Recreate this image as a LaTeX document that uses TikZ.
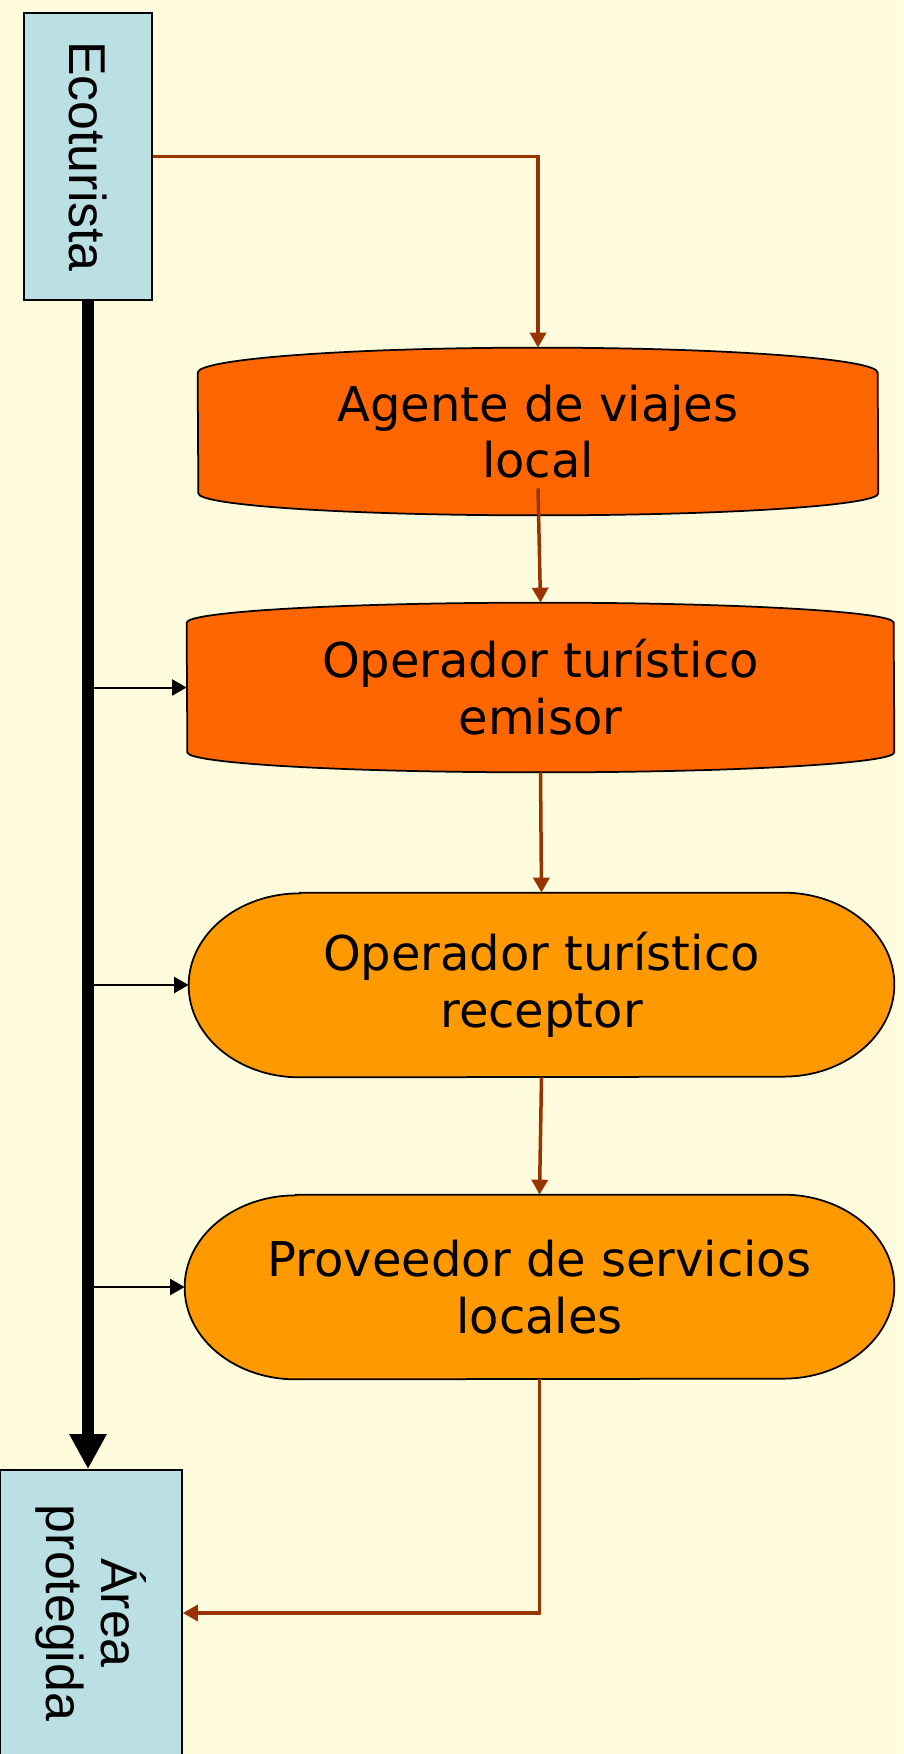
\documentclass[tikz,border=0pt]{standalone}
\usepackage{fontspec}
\usepackage{xcolor}
\usepackage{tikz}
\usetikzlibrary{arrows.meta,backgrounds}
\newfontfamily\verdana{DejaVu Sans}
\newfontfamily\arial{Liberation Sans}
\definecolor{papel}{HTML}{FFFCDE}
\definecolor{celeste}{HTML}{BAE0E4}
\definecolor{naranja}{HTML}{FF6600}
\definecolor{ambar}{HTML}{FF9900}
\definecolor{marron}{HTML}{993300}
\tikzset{
  caja/.style={draw, line width=0.35mm, fill=celeste, rotate=-90, align=center,
    inner sep=0pt, font=\arial\fontsize{29.5}{31.5}\selectfont},
  etapa/.style={align=center, inner sep=0pt, font=\verdana\fontsize{27.3}{32.3}\selectfont},
  borde/.style={draw, line width=0.35mm},
  flujo/.style={marron, line width=0.7mm, -{Triangle[length=3mm,width=3.2mm]}},
  entrada/.style={line width=0.4mm, -{Triangle[length=2.9mm,width=3.2mm]}}
}
\begin{document}
\begin{tikzpicture}[x=0.2mm, y=-0.2mm]
                \useasboundingbox (0,0) rectangle (903,1754);
                % rotated boxes: east = bottom, north = right side, west = top
                \node[caja, minimum width=57.4mm, minimum height=25.6mm] (eco) at (88,156.5) {Ecoturista};
                \node[caja, minimum width=57.2mm, minimum height=36.4mm] (area) at (91,1613) {Área\\protegida};
                \node[etapa, minimum width=136mm, minimum height=33.4mm] (agente) at (538,431.5) {Agente de viajes\\local};
                \node[etapa, minimum width=141.4mm, minimum height=33.8mm] (emisor) at (540.5,687.5) {Operador turístico\\emisor};
                \node[etapa, minimum width=141mm, minimum height=36.8mm] (receptor) at (541.5,985) {Operador turístico\\receptor};
                \node[etapa, minimum width=141.8mm, minimum height=36.8mm] (proveedor) at (539.5,1287) {Proveedor de servicios\\locales};
                \begin{scope}[on background layer]
                    \fill[papel] (0,0) rectangle (903,1754);
                    \draw[borde, fill=naranja] ([yshift=-5mm]agente.north west) arc[start angle=180, end angle=0, x radius=68mm, y radius=5mm]
                        -- ([yshift=4.4mm]agente.south east) arc[start angle=0, end angle=-180, x radius=68mm, y radius=4.4mm] -- cycle;
                    \draw[borde, fill=naranja] ([yshift=-4mm]emisor.north west) arc[start angle=180, end angle=0, x radius=70.7mm, y radius=4mm]
                        -- ([yshift=4mm]emisor.south east) arc[start angle=0, end angle=-180, x radius=70.7mm, y radius=4mm] -- cycle;
                    \foreach \n in {receptor, proveedor} {
                        \draw[borde, fill=ambar] ([xshift=22.2mm]\n.north west) -- ([xshift=-22.2mm]\n.north east)
                            arc[start angle=90, end angle=-90, x radius=22.2mm, y radius=18.4mm]
                            -- ([xshift=22.2mm]\n.south west) arc[start angle=270, end angle=90, x radius=22.2mm, y radius=18.4mm] -- cycle;
                    }
                \end{scope}
                \draw[line width=2.4mm, -{Triangle[length=7mm,width=7mm]}] (eco.east) -- (eco.east |- area.west);
                \foreach \n in {emisor, receptor, proveedor}
                    \draw[entrada] (eco.east |- \n.west) -- (\n.west);
                \draw[flujo] (eco.north) -| (agente.north);
                \draw[flujo] ([yshift=5.4mm]agente.south) -- (emisor.north);
                \draw[flujo] (emisor.south) -- (receptor.north);
                \draw[flujo] (receptor.south) -- (proveedor.north);
                \draw[flujo] (proveedor.south) |- (area.north);
            \end{tikzpicture}
\end{document}
